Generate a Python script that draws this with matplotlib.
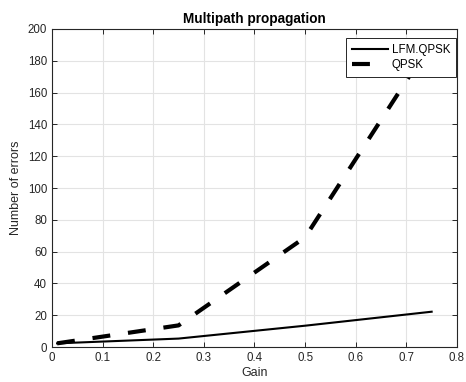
import matplotlib
matplotlib.use("Agg")
import matplotlib.pyplot as plt

# values
gain = [0.01, 0.25, 0.5, 0.75]
lfm_qpsk = [2.3, 5.3, 13.4, 22.2]
qpsk = [2.3, 13.6, 69.0, 192.0]

plt.rcParams['font.family'] = ['Liberation Sans', 'DejaVu Sans']

fig = plt.figure(figsize=(4.66, 3.82), dpi=100)
ax = fig.add_axes([0.1116, 0.0916, 0.869, 0.8325])

axcol = '#262626'
ax.plot(gain, lfm_qpsk, color='black', lw=1.5, label='LFM.QPSK')
ax.plot(gain, qpsk, color='black', lw=3, dashes=(4.3, 4.3), label='QPSK')

ax.set_xlim(0, 0.8)
ax.set_ylim(0, 200)
ax.set_xticks([0, 0.1, 0.2, 0.3, 0.4, 0.5, 0.6, 0.7, 0.8])
ax.set_xticklabels(['0', '0.1', '0.2', '0.3', '0.4', '0.5', '0.6', '0.7', '0.8'])
ax.set_yticks(range(0, 201, 20))

ax.grid(True, color='#e3e3e3', lw=0.8)
ax.set_axisbelow(True)
ax.tick_params(direction='in', length=3.5, width=0.7, colors=axcol,
               labelsize=8.3, top=True, right=True, labelcolor=axcol)
for s in ax.spines.values():
    s.set_color(axcol)
    s.set_linewidth(0.8)

ax.set_xlabel('Gain', fontsize=9, color=axcol, labelpad=2)
ax.set_ylabel('Number of errors', fontsize=9, color=axcol, labelpad=4)
ax.set_title('Multipath propagation', fontsize=9.8, fontweight='bold', pad=4)

leg = ax.legend(loc='upper right', bbox_to_anchor=(0.9975, 0.972), fontsize=8.3,
                fancybox=False, framealpha=1, edgecolor=axcol, borderaxespad=0,
                handlelength=3.1, handletextpad=0.35, borderpad=0.5, labelspacing=0.3)
leg.get_frame().set_linewidth(0.7)
# only one dash shows in the legend sample
leg.get_lines()[1].set_dashes((4.3, 20))

fig.savefig('out.png', dpi=100)
